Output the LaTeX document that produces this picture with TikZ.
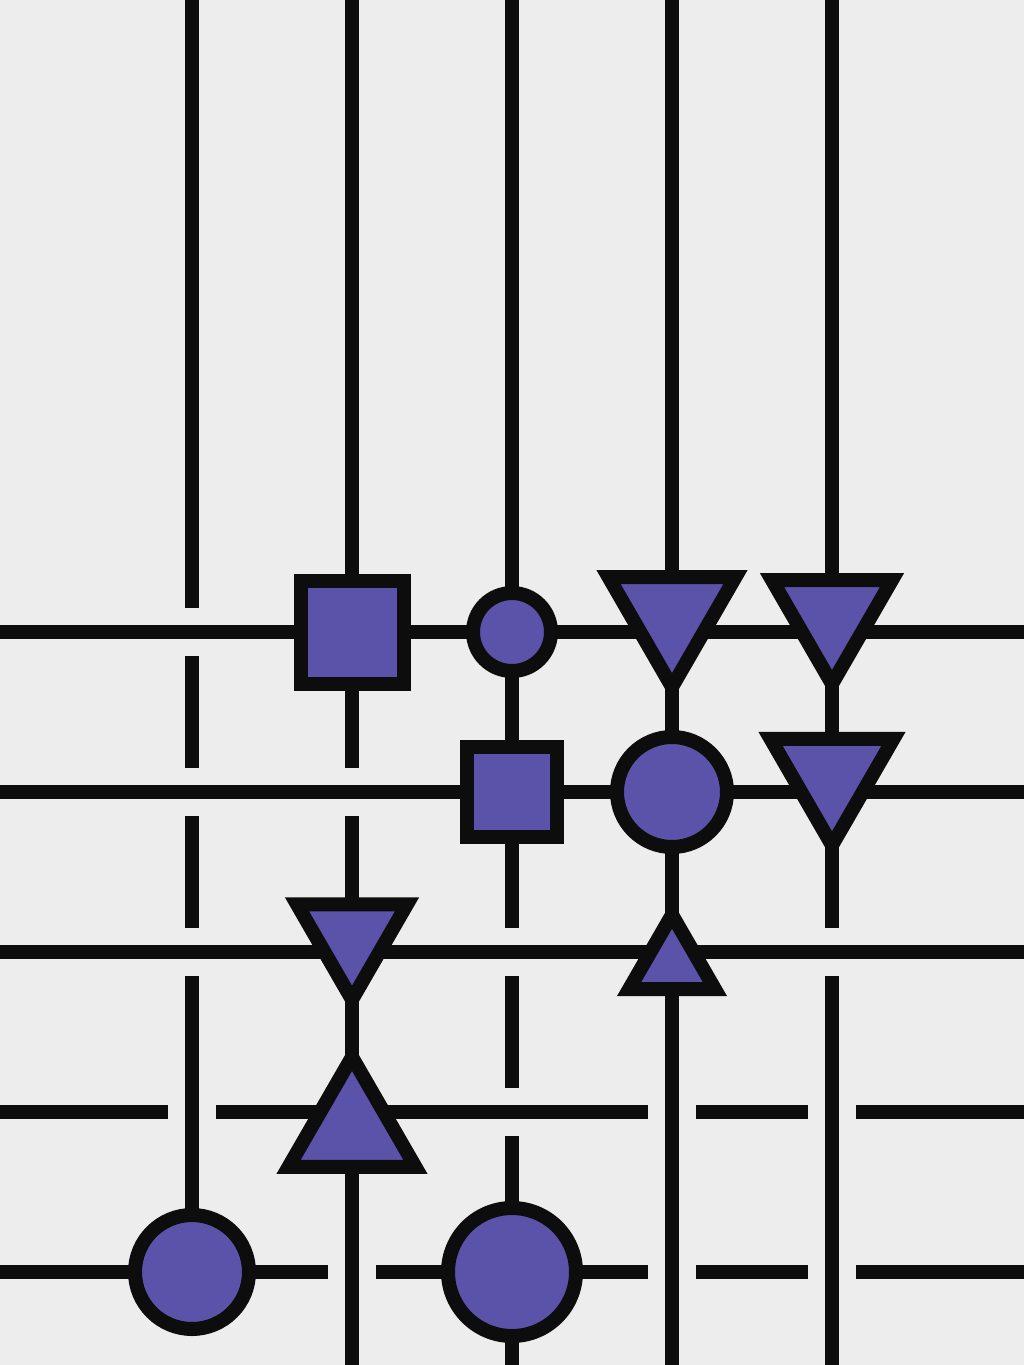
\documentclass[tikz,border=0pt]{standalone}
\usetikzlibrary{shapes.geometric,calc}
\definecolor{bgc}{HTML}{EDEDED}
\definecolor{ink}{HTML}{0D0D0D}
\definecolor{fillc}{HTML}{5A53A9}
\pgfdeclarelayer{bglayer}
\pgfdeclarelayer{wirelayer}
\pgfsetlayers{bglayer,wirelayer,main}
\begin{document}
\begin{tikzpicture}[x=1pt,y=-1pt,
  wire/.style={draw=ink,line width=14pt,line cap=butt},
  glyph/.style={draw=ink,fill=fillc,line width=14pt,inner sep=0pt,outer sep=0pt,line join=miter},
  sqbox/.style={glyph,rectangle,minimum size=#1},
  dot/.style={glyph,circle,minimum size=#1},
  tridown/.style={glyph,regular polygon,regular polygon sides=3,shape border rotate=180,minimum size=#1},
  triup/.style={glyph,regular polygon,regular polygon sides=3,minimum size=#1}]
\useasboundingbox (0,0) rectangle (1024,1365);
\begin{pgfonlayer}{bglayer}
\fill[bgc] (0,0) rectangle (1024,1365);
\end{pgfonlayer}
% lattice
\foreach \c/\x in {a/192,b/352,c/512,d/672,e/832}{
  \coordinate (T\c) at (\x,0);
  \coordinate (B\c) at (\x,1365);
  \foreach \r/\y in {1/632,2/792,3/952,4/1112,5/1272}{
    \coordinate (\c\r) at (\x,\y);
  }
}
\foreach \r/\y in {1/632,2/792,3/952,4/1112,5/1272}{
  \coordinate (L\r) at (0,\y);
  \coordinate (R\r) at (1024,\y);
}
% glyphs
\node[sqbox=103] (sqA) at (b1) {};
\node[dot=78] (dotA) at (c1) {};
\node[tridown=146.6] (trA) at (672,613.7) {};
\node[tridown=138.6] (trB) at (832,614.7) {};
\node[sqbox=90] (sqB) at (c2) {};
\node[dot=110] (dotB) at (d2) {};
\node[tridown=142] (trC) at (832,774.3) {};
\node[tridown=127] (trD) at (352,936.1) {};
\node[triup=99.3] (trE) at (672,964.4) {};
\node[triup=146.6] (trF) at (352,1130.3) {};
\node[dot=114] (dotC) at (a5) {};
\node[dot=128] (dotD) at (c5) {};
% wires
\begin{pgfonlayer}{wirelayer}
% vertical
\draw[wire] (Ta) -- ($(a1)+(0,-24)$);
\draw[wire] ($(a1)+(0,24)$) -- ($(a2)+(0,-24)$);
\draw[wire] ($(a2)+(0,24)$) -- ($(a3)+(0,-24)$);
\draw[wire] ($(a3)+(0,24)$) -- (dotC);
\draw[wire] (Tb) -- (sqA);
\draw[wire] (sqA) -- ($(b2)+(0,-24)$);
\draw[wire] ($(b2)+(0,24)$) -- (trD);
\draw[wire] (trD) -- (trF);
\draw[wire] (trF) -- (Bb);
\draw[wire] (Tc) -- (dotA);
\draw[wire] (dotA) -- (sqB);
\draw[wire] (sqB) -- ($(c3)+(0,-24)$);
\draw[wire] ($(c3)+(0,24)$) -- ($(c4)+(0,-24)$);
\draw[wire] ($(c4)+(0,24)$) -- (dotD);
\draw[wire] (dotD) -- (Bc);
\draw[wire] (Td) -- (trA);
\draw[wire] (trA) -- (dotB);
\draw[wire] (dotB) -- (trE);
\draw[wire] (trE) -- (Bd);
\draw[wire] (Te) -- (trB);
\draw[wire] (trB) -- (trC);
\draw[wire] (trC) -- ($(e3)+(0,-24)$);
\draw[wire] ($(e3)+(0,24)$) -- (Be);
% horizontal
\draw[wire] (L1) -- (sqA);
\draw[wire] (sqA) -- (dotA);
\draw[wire] (dotA) -- (R1);
\draw[wire] (L2) -- (sqB);
\draw[wire] (sqB) -- (dotB);
\draw[wire] (dotB) -- (R2);
\draw[wire] (L3) -- (R3);
\draw[wire] (L4) -- ($(a4)+(-24,0)$);
\draw[wire] ($(a4)+(24,0)$) -- ($(d4)+(-24,0)$);
\draw[wire] ($(d4)+(24,0)$) -- ($(e4)+(-24,0)$);
\draw[wire] ($(e4)+(24,0)$) -- (R4);
\draw[wire] (L5) -- (dotC);
\draw[wire] (dotC) -- ($(b5)+(-24,0)$);
\draw[wire] ($(b5)+(24,0)$) -- (dotD);
\draw[wire] (dotD) -- ($(d5)+(-24,0)$);
\draw[wire] ($(d5)+(24,0)$) -- ($(e5)+(-24,0)$);
\draw[wire] ($(e5)+(24,0)$) -- (R5);
\end{pgfonlayer}
\end{tikzpicture}
\end{document}
